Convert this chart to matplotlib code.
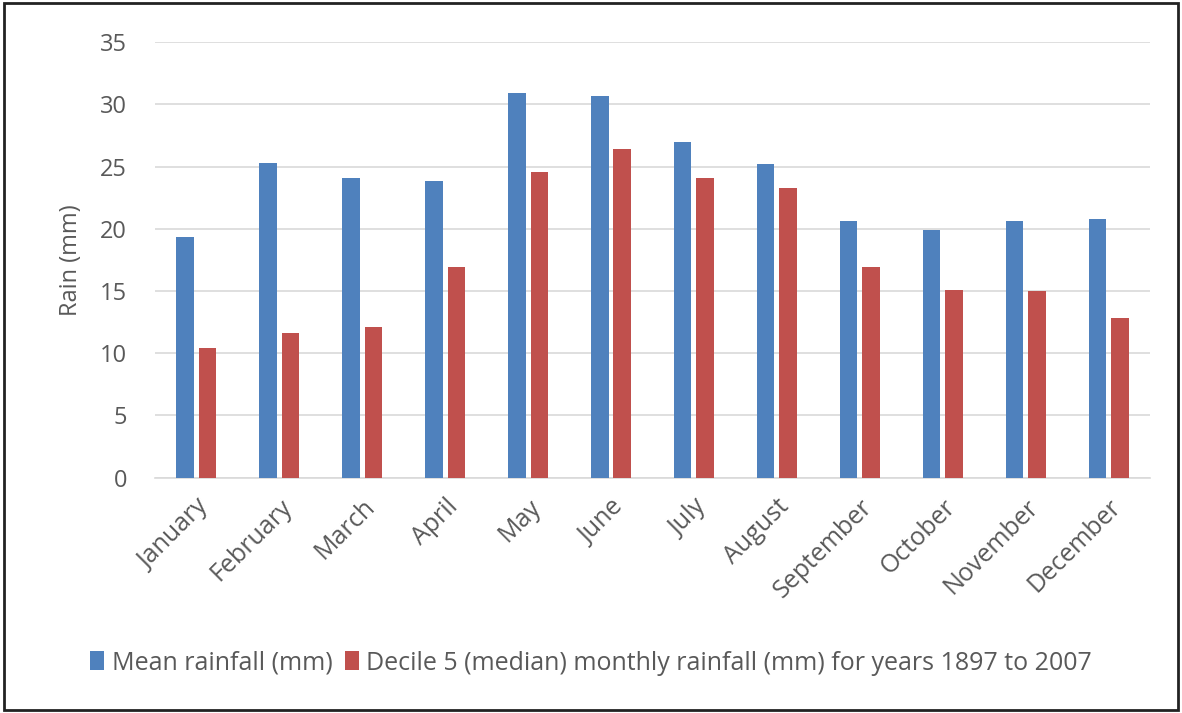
import matplotlib.pyplot as plt
import numpy as np

months = ['January', 'February', 'March', 'April', 'May', 'June',
          'July', 'August', 'September', 'October', 'November', 'December']
mean_rain = [19.3, 25.3, 24.1, 23.8, 30.9, 30.7, 27.0, 25.2, 20.6, 19.9, 20.6, 20.8]
median_rain = [10.4, 11.6, 12.1, 16.9, 24.6, 26.4, 24.1, 23.3, 16.9, 15.1, 15.0, 12.8]
yticks = [0, 5, 10, 15, 20, 25, 30, 35]

blue = '#4f81bd'
red = '#c0504d'
grey = '#595959'

plt.rcParams['font.family'] = ['Open Sans', 'DejaVu Sans']

fig = plt.figure(figsize=(11.82, 7.13), dpi=100)
ax = fig.add_axes([0.131, 0.330, 0.842, 0.611])

x = np.arange(len(months))
w = 0.21
ax.bar(x - 0.135, mean_rain, w, color=blue, label='Mean rainfall (mm)', zorder=3)
ax.bar(x + 0.135, median_rain, w, color=red,
       label='Decile 5 (median) monthly rainfall (mm) for years 1897 to 2007', zorder=3)

ax.set_xlim(-0.5, len(months) - 0.5)
ax.set_ylim(0, 35)
ax.set_yticks(yticks)
ax.yaxis.grid(True, color='#d9d9d9', linewidth=1.2, zorder=0)
for s in ['top', 'right', 'left']:
    ax.spines[s].set_visible(False)
ax.spines['bottom'].set_color('#d9d9d9')
ax.spines['bottom'].set_linewidth(1.2)
ax.tick_params(axis='both', length=0, colors=grey)
ax.tick_params(axis='y', pad=20, labelsize=17)
ax.tick_params(axis='x', pad=12, labelsize=18)
ax.set_xticks(x)
ax.set_xticklabels(months, rotation=45, ha='right', rotation_mode='anchor')
ax.set_ylabel('Rain (mm)', color=grey, fontsize=17, labelpad=12)

fig.legend(loc='center', bbox_to_anchor=(0.500, 0.07), ncol=2, frameon=False,
           fontsize=18, labelcolor=grey, handlelength=0.55, handleheight=0.8,
           handletextpad=0.3, columnspacing=0.5)

# outer frame of the chart area
fig.patches.append(plt.Rectangle((0.003, 0.004), 0.994, 0.992, transform=fig.transFigure,
                                 fill=False, edgecolor='#222222', linewidth=2))

fig.savefig('out.png', dpi=100)
